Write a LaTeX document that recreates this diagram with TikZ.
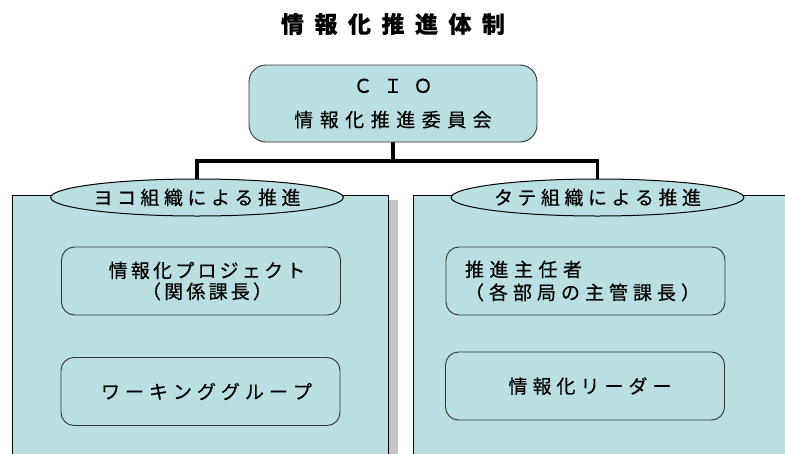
\documentclass[tikz,border=0pt]{standalone}
\usepackage{fontspec}
\setmainfont{Noto Sans CJK JP}[FakeBold=0.4]
\usetikzlibrary{shapes.geometric,backgrounds}
\definecolor{pale}{HTML}{B9DFE2}
\makeatletter
\newcommand\spread[2]{\def\spr@k{#1}\@tfor\spr@c:=#2\do{\spr@c\kern\spr@k}\kern-\spr@k\relax}
\makeatother
\tikzset{
  panel/.style={draw=black, line width=1pt, fill=pale},
  rbox/.style={draw=black!80, line width=0.9pt, rounded corners=13, fill=pale, inner sep=0pt,
    minimum width=279, minimum height=68, font=\fontsize{19}{21}\selectfont},
  oval/.style={ellipse, draw=black, line width=1pt, fill=pale, minimum width=272,
    minimum height=37, inner sep=0pt, font=\fontsize{19}{21}\selectfont},
  link/.style={line width=3.2pt}
}
\begin{document}
\begin{tikzpicture}[x=1pt,y=-1pt]
\useasboundingbox (0,0) rectangle (785,453);
\clip (0,0) rectangle (785,453);
% title
\node[font=\fontsize{23}{26}\selectfont\bfseries] (title) at (393,24) {\spread{10.5pt}{情報化推進体制}};
% panels
\fill[gray!45] (389,200) rectangle (398,460);
\draw[panel] (12,195) rectangle (388,460);
\draw[panel] (413,195) rectangle (790,460);
% CIO box
\node[rbox, rounded corners=17, minimum width=288, minimum height=77, align=center,
  font=\fontsize{19}{34}\selectfont] (cio) at (393,103.5)
  {\spread{11pt}{ＣＩＯ}\\\spread{6.5pt}{情報化推進委員会}};
% ovals
\node[oval] (yoko) at (197,197.5) {\spread{4.5pt}{ヨコ組織による推進}};
\node[oval] (tate) at (597.5,197.5) {\spread{4.5pt}{タテ組織による推進}};
% connectors
\begin{scope}[on background layer]
\coordinate (j) at (393,161);
\draw[link] (cio.south) -- (j);
\draw[link] (yoko.north) |- (j) -| (tate.north);
\end{scope}
% inner boxes
\node[rbox, align=center] (proj) at (201,281)
  {\hspace*{12pt}\spread{3.2pt}{情報化プロジェクト}\\\hspace*{12pt}\spread{3.2pt}{（関係課長）}};
\node[rbox] (wg) at (200.5,391.5) {\hspace*{12pt}\spread{5pt}{ワーキンググループ}};
\node[rbox, align=left, text width=241, inner xsep=19pt, font=\fontsize{19}{23}\selectfont] (suishin) at (585.5,281)
  {\spread{5.5pt}{推進主任者}\\\spread{5pt}{（各部局の主管課長）}};
\node[rbox] (leader) at (585,386) {\hspace*{10pt}\spread{5pt}{情報化リーダー}};
\end{tikzpicture}
\end{document}
